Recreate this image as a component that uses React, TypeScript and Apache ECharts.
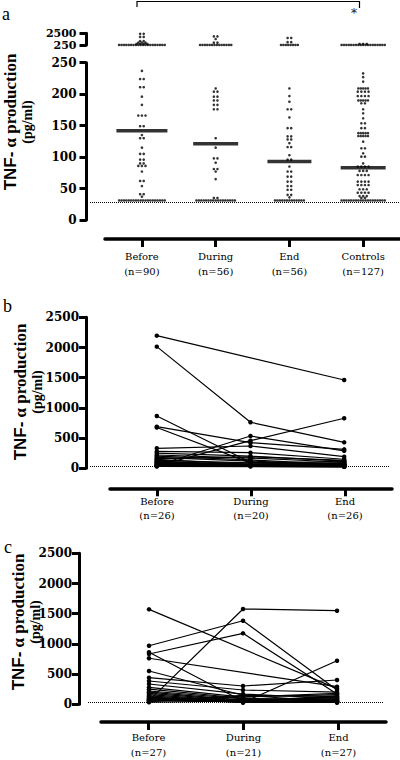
import React, { useEffect, useRef } from "react";
import * as echarts from "echarts";

// ---------- Panel a: TNF-α production per group (pg/ml) ----------
const GROUPS_A = ["Before", "During", "End", "Controls"];
const N_A = [90, 56, 56, 127];
const BEFORE_A = [
  2400, 2400, 1800, 1800, 1000, 1000, 700, 700, 700, 450, 450, 450, 450,
  260, 260, 260, 260, 260, 260, 260, 260, 260, 260, 260, 260, 260, 260, 260, 260, 260, 260, 260, 260,
  237, 224, 224, 211, 211, 196, 183, 166, 166, 166, 149, 149, 135, 130, 130, 115, 105, 105,
  96, 96, 90, 90, 86, 86, 86, 77, 62, 62, 54, 41, 41, 37,
  31, 31, 31, 31, 31, 31, 31, 31, 31, 31, 31, 31, 31, 31, 31, 31, 31, 31, 31, 31,
];
const DURING_A = [
  1900, 1900, 1400, 700, 700,
  260, 260, 260, 260, 260, 260, 260, 260, 260, 260, 260, 260, 260, 260,
  209, 204, 204, 196, 196, 190, 190, 183, 183, 176, 176, 130, 115, 98, 98, 91, 81, 81, 77, 65,
  35, 35,
  31, 31, 31, 31, 31, 31, 31, 31, 31, 31, 31, 31, 31, 31, 31, 31, 31,
];
const END_A = [
  1600, 1600, 800, 800,
  260, 260, 260, 260, 260, 260, 260, 260,
  209, 197, 188, 176, 176, 163, 146, 146, 133, 133, 128, 128, 122, 116, 116, 103, 96, 96,
  85, 77, 77, 69, 69, 61, 61, 54, 54, 48, 48, 40, 40, 36,
  31, 31, 31, 31, 31, 31, 31, 31, 31, 31, 31, 31, 31,
];
const CONTROLS_A = [
  450, 450, 450,
  260, 260, 260, 260, 260, 260, 260, 260, 260, 260, 260, 260, 260, 260, 260, 260, 260, 260, 260,
  233, 227, 220, 209, 209, 209, 209, 209, 204, 204, 204, 204, 197, 197, 197, 197,
  190, 190, 190, 190, 190, 185.5, 185.5, 176, 169.6, 161.7, 153.7, 153.7, 146, 146,
  138, 138, 138, 138, 138, 133.5, 133.5, 133.5, 133.5, 133.5, 124.5, 114, 114, 106,
  100.7, 100.7, 90, 85, 85, 85, 85, 78, 78, 78, 71.5, 71.5, 71.5, 71.5,
  61, 61, 61, 61, 55.6, 55.6, 55.6, 55.6, 48.8, 48.8, 48.8, 43.4, 43.4, 43.4, 43.4, 38, 38, 38,
  35, 35,
  31, 31, 31, 31, 31, 31, 31, 31, 31, 31, 31, 31, 31, 31, 31, 31, 31, 31, 31,
];
const VALUES_A = [BEFORE_A, DURING_A, END_A, CONTROLS_A];
const MEDIANS_A = [142, 121, 93, 83];
const BREAK_A = 250; // axis break between lower (0-250) and upper (250-2500) segments
const UPPER_TICKS_A = [250, 2500];
const LOD = 29; // dotted detection-limit line

// ---------- Panels b & c: paired samples (Before, During, End) ----------
const TIMEPOINTS = ["Before", "During", "End"];
const N_B = [26, 20, 26];
const PATIENTS_B: (number | null)[][] = [
  [2196, null, 1462],
  [2014, 762, 430],
  [866, 100, 60],
  [689, 424, 314],
  [675, 90, 80],
  [40, 457, 828],
  [50, 535, 290],
  [331, 369, 192],
  [280, 258, 150],
  [250, 200, 120],
  [220, 170, 100],
  [200, 140, 60],
  [180, 120, 50],
  [160, 190, 130],
  [150, 60, 40],
  [130, 90, 70],
  [120, 40, 30],
  [110, 70, 90],
  [100, 30, 25],
  [90, 50, 45],
  [80, null, 35],
  [70, null, 110],
  [60, null, 55],
  [50, null, 30],
  [40, null, 65],
  [30, null, 25],
];
const N_C = [27, 21, 27];
const PATIENTS_C: (number | null)[][] = [
  [1572, null, 260],
  [970, 1384, 237],
  [833, 1175, 170],
  [861, 50, 120],
  [762, null, 292],
  [60, 1578, 1550],
  [120, 30, 722],
  [551, 150, 130],
  [441, 303, 402],
  [386, 237, 200],
  [336, 170, 100],
  [281, 120, 160],
  [250, 100, 60],
  [220, 90, 80],
  [200, 70, 110],
  [180, 60, 50],
  [160, 50, 140],
  [140, 45, 40],
  [120, 40, 70],
  [105, 35, 45],
  [95, 30, 35],
  [85, null, 60],
  [75, null, 30],
  [65, null, 180],
  [55, null, 90],
  [45, 150, 40],
  [35, 55, 30],
];
const SIGNIFICANCE = "*";

// ---------- styling helpers ----------
const BLACK = "#000";
const TICK_FONT = { fontFamily: "'DejaVu Serif'", fontWeight: "bold" as const, fontSize: 12, color: BLACK };
const CAT_FONT = { fontFamily: "'DejaVu Serif'", fontSize: 10, color: BLACK };
const MEDIAN_WIDTHS = [51, 45, 44, 45];
const PX_PER_CAT_A = 73.75;

function swarm(values: number[], idx: number, pxPerUnit: number) {
  const counts = new Map<number, number>();
  values.forEach((v) => counts.set(v, (counts.get(v) || 0) + 1));
  const seen = new Map<number, number>();
  return values.map((v) => {
    const k = counts.get(v)!;
    const j = seen.get(v) || 0;
    seen.set(v, j + 1);
    const pitch = k > 4 ? 2.4 : 3.6;
    return [idx + ((j - (k - 1) / 2) * pitch) / pxPerUnit, v];
  });
}

function hiddenX(gridIndex: number, min: number, max: number) {
  return { type: "value", gridIndex, min, max, show: false, axisLine: { onZero: false } };
}
function hiddenY(gridIndex: number, min: number, max: number) {
  return { type: "value", gridIndex, min, max, show: false, axisLine: { onZero: false } };
}

function valueY(gridIndex: number, min: number, max: number, interval: number | null, offset: number, margin: number, custom?: number[], fontSize = 12) {
  const ax: any = {
    type: "value",
    gridIndex,
    min,
    max,
    offset,
    axisLine: { show: true, onZero: false, lineStyle: { color: BLACK, width: 3 } },
    axisTick: { show: true, length: 7, lineStyle: { color: BLACK, width: 3 } },
    axisLabel: {
      ...TICK_FONT,
      fontSize,
      margin,
      showMinLabel: true,
      showMaxLabel: true,
      hideOverlap: false,
      formatter: (v: number) => String(v),
    },
    splitLine: { show: false },
  };
  if (interval != null) ax.interval = interval;
  if (custom) {
    ax.axisTick.customValues = custom;
    ax.axisLabel.customValues = custom;
  }
  return ax;
}

function catX(gridIndex: number, labels: string[], offset: number, margin: number, lineHeight: number) {
  return {
    type: "category",
    gridIndex,
    data: labels,
    boundaryGap: true,
    offset,
    axisLine: { show: true, onZero: false, lineStyle: { color: BLACK, width: 3.5 } },
    axisTick: { show: true, alignWithLabel: true, length: 8, lineStyle: { color: BLACK, width: 3 } },
    axisLabel: { ...CAT_FONT, interval: 0, margin, lineHeight },
    splitLine: { show: false },
  };
}

function pairedSeries(patients: (number | null)[][], xAxisIndex: number, yAxisIndex: number) {
  return patients.map((p, k) => {
    const pts: number[][] = [];
    p.forEach((v, i) => {
      if (v != null) pts.push([i, v]);
    });
    const s: any = {
      type: "line",
      xAxisIndex,
      yAxisIndex,
      data: pts,
      symbol: "circle",
      symbolSize: 4.5,
      showSymbol: true,
      showAllSymbol: true,
      silent: true,
      lineStyle: { color: BLACK, width: 1.2 },
      itemStyle: { color: BLACK },
      z: 3,
    };
    if (k === 0) {
      s.markLine = {
        silent: true,
        symbol: ["none", "none"],
        label: { show: false },
        lineStyle: { color: BLACK, width: 1, type: "dotted" },
        data: [{ yAxis: LOD }],
        z: 1,
      };
    }
    return s;
  });
}

const titleRich = {
  s: { fontFamily: "'Liberation Sans'", fontWeight: "bold", fontSize: 17, lineHeight: 17, fill: BLACK },
  r: { fontFamily: "'Liberation Serif'", fontWeight: "bold", fontSize: 17, lineHeight: 17, fill: BLACK },
  p: { fontFamily: "'Liberation Serif'", fontWeight: "bold", fontSize: 14, lineHeight: 17, fill: BLACK },
};
function yTitle(x: number, y: number) {
  return {
    type: "text",
    x,
    y,
    rotation: Math.PI / 2,
    silent: true,
    style: {
      text: "{s|TNF-}{r| α production}\n{p|(pg/ml)}",
      rich: titleRich,
      fill: BLACK,
      align: "center",
      verticalAlign: "middle",
    },
  };
}
function panelLetter(t: string, x: number, y: number) {
  return {
    type: "text",
    x,
    y,
    silent: true,
    style: { text: t, fontFamily: "'Liberation Serif'", fontSize: 18, fill: BLACK, align: "left", verticalAlign: "middle" },
  };
}

export default function App() {
  const ref = useRef<HTMLDivElement>(null);
  useEffect(() => {
    if (!ref.current) return;
    const chart = echarts.init(ref.current, undefined, { renderer: "svg" });

    const upperPts: number[][] = [];
    const lowerPts: number[][] = [];
    VALUES_A.forEach((vals, i) => {
      swarm(vals.filter((v) => v > BREAK_A), i, PX_PER_CAT_A).forEach((p) => upperPts.push(p));
      swarm(vals.filter((v) => v <= BREAK_A), i, PX_PER_CAT_A).forEach((p) => lowerPts.push(p));
    });

    const labelsA = GROUPS_A.map((g, i) => `${g}\n(n=${N_A[i]})`);
    const labelsB = TIMEPOINTS.map((g, i) => `${g}\n(n=${N_B[i]})`);
    const labelsC = TIMEPOINTS.map((g, i) => `${g}\n(n=${N_C[i]})`);

    const option: any = {
      animation: false,
      grid: [
        { left: 90, right: 1, top: 33.3, height: 11.7 }, // 0 a upper data
        { left: 90, right: 1, top: 62.7, height: 157.3 }, // 1 a lower data
        { left: 105, right: 0, top: 62.7, height: 157.3 }, // 2 a visible x
        { left: 90, right: 10, top: 317.3, height: 151 }, // 3 b data
        { left: 110, right: 8, top: 317.3, height: 151 }, // 4 b visible x
        { left: 88, right: 17, top: 553.3, height: 151 }, // 5 c data
        { left: 101, right: 14, top: 553.3, height: 151 }, // 6 c visible x
      ],
      xAxis: [
        hiddenX(0, -0.704, 3.486),
        hiddenX(1, -0.704, 3.486),
        catX(2, labelsA, 19, 10.5, 14.5),
        hiddenX(3, -0.713, 2.489),
        catX(4, labelsB, 20, 6.5, 14),
        hiddenX(5, -0.649, 2.489),
        catX(6, labelsC, 20, 8, 15),
      ],
      yAxis: [
        valueY(0, 250, 2500, 2250, 3.5, 10, UPPER_TICKS_A, 11),
        valueY(1, 0, 250, 50, 3.5, 10),
        hiddenY(2, 0, 250),
        valueY(3, 0, 2500, 500, 4, 7),
        hiddenY(4, 0, 2500),
        valueY(5, 0, 2500, 500, 9, 7),
        hiddenY(6, 0, 2500),
      ],
      series: [
        {
          type: "scatter",
          xAxisIndex: 0,
          yAxisIndex: 0,
          symbol: "circle",
          symbolSize: 2.6,
          silent: true,
          itemStyle: { color: BLACK },
          data: upperPts,
        },
        {
          type: "scatter",
          xAxisIndex: 1,
          yAxisIndex: 1,
          symbol: "circle",
          symbolSize: 2.6,
          silent: true,
          itemStyle: { color: BLACK },
          data: lowerPts,
          markLine: {
            silent: true,
            symbol: ["none", "none"],
            label: { show: false },
            lineStyle: { color: BLACK, width: 1, type: "dotted" },
            data: [{ yAxis: LOD }],
          },
        },
        {
          type: "scatter",
          xAxisIndex: 1,
          yAxisIndex: 1,
          symbol: "rect",
          silent: true,
          itemStyle: { color: BLACK },
          z: 5,
          data: MEDIANS_A.map((m, i) => ({ value: [i, m], symbolSize: [MEDIAN_WIDTHS[i], 3.5] })),
        },
        ...pairedSeries(PATIENTS_B, 3, 3),
        ...pairedSeries(PATIENTS_C, 5, 5),
      ],
      graphic: [
        panelLetter("a", 2, 14),
        panelLetter("b", 3, 306),
        panelLetter("c", 4, 547),
        yTitle(19, 122),
        yTitle(29, 392),
        yTitle(27, 622),
        {
          type: "polyline",
          silent: true,
          shape: { points: [[137, 7], [137, 1.5], [359.5, 1.5], [359.5, 8]] },
          style: { stroke: BLACK, lineWidth: 1.2, fill: null },
        },
        {
          type: "text",
          x: 354,
          y: 12,
          silent: true,
          style: {
            text: SIGNIFICANCE,
            fontFamily: "'DejaVu Sans'",
            fontSize: 13,
            fill: "#222",
            align: "center",
            verticalAlign: "middle",
          },
        },
      ],
    };
    chart.setOption(option);
    return () => chart.dispose();
  }, []);
  return <div ref={ref} style={{ position: "fixed", left: 0, top: 0, width: 400, height: 760, background: "#fff" }} />;
}
